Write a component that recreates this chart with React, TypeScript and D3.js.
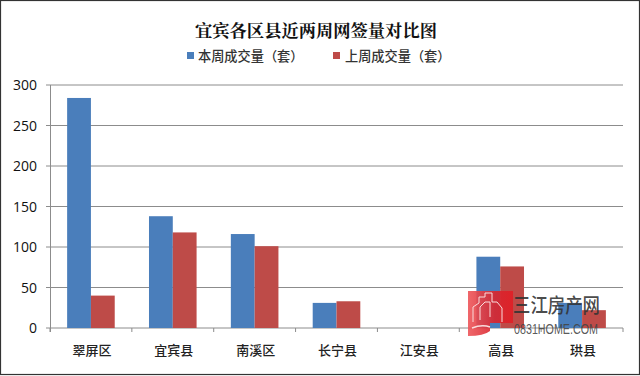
import React from "react";
import * as d3 from "d3";

const title = "宜宾各区县近两周网签量对比图";
const categories = ["翠屏区", "宜宾县", "南溪区", "长宁县", "江安县", "高县", "珙县"];
const thisWeek = [284, 138, 116, 31, 0, 88, 31];
const lastWeek = [40, 118, 101, 33, 0, 76, 22];
const seriesNames = ["本周成交量（套）", "上周成交量（套）"];
const seriesColors = ["#4a7ebb", "#be4b48"];
const yTicks = [0, 50, 100, 150, 200, 250, 300];

const W = 640, H = 376;
const plot = { left: 50, right: 623, top: 85, bottom: 328 };
const font = "'Noto Sans CJK SC', sans-serif";

export default function App() {
  const x = d3.scaleBand<string>().domain(categories).range([plot.left, plot.right]);
  const inner = d3.scaleBand<number>().domain([0, 1]).range([0, x.bandwidth()]).paddingOuter(0.72).paddingInner(0);
  const y = d3.scaleLinear().domain([0, 300]).range([plot.bottom, plot.top]);
  const series = [thisWeek, lastWeek];
  const ticksX = [...categories.map((c) => x(c)!), plot.right];

  return (
    <svg width={W} height={H} style={{ position: "absolute", left: 0, top: 0, background: "#fff" }}>
      <defs>
        <linearGradient id="logo" x1="0" x2="1" y1="0" y2="0">
          <stop offset="0" stopColor="#ee5a5e" />
          <stop offset="0.6" stopColor="#d8262f" />
          <stop offset="1" stopColor="#e01f26" />
        </linearGradient>
      </defs>
      <rect x={0.5} y={0.5} width={W - 1} height={H - 2} fill="#fff" stroke="#333" strokeWidth={1.2} />
      <text x={316} y={37} textAnchor="middle" fontFamily="'Noto Serif CJK SC','Noto Sans CJK SC',serif" fontWeight={700} fontSize={17.3} fill="#111">{title}</text>

      <rect x={187} y={52} width={7} height={7} fill={seriesColors[0]} />
      <text x={198} y={60.5} fontFamily={font} fontWeight={500} fontSize={13.2} fill="#333">{seriesNames[0]}</text>
      <rect x={333} y={52} width={7} height={7} fill={seriesColors[1]} />
      <text x={345} y={60.5} fontFamily={font} fontWeight={500} fontSize={13.2} fill="#333">{seriesNames[1]}</text>

      {yTicks.map((t) => (
        <g key={t}>
          <line x1={plot.left - 4} x2={plot.right} y1={y(t)} y2={y(t)} stroke="#8c8c8c" strokeWidth={1} />
          <text x={37} y={y(t) + 5} textAnchor="end" fontFamily="'Open Sans', sans-serif" fontSize={14} fill="#111">{t}</text>
        </g>
      ))}
      <line x1={plot.left + 0.5} x2={plot.left + 0.5} y1={plot.top} y2={plot.bottom + 4} stroke="#8c8c8c" />
      {ticksX.map((tx, i) => (
        <line key={i} x1={tx} x2={tx} y1={plot.bottom} y2={plot.bottom + 4} stroke="#8c8c8c" />
      ))}

      {series.map((vals, s) =>
        vals.map((v, i) => (
          <rect key={`${s}-${i}`} x={x(categories[i])! + inner(s)!} y={y(v)} width={inner.bandwidth()} height={plot.bottom - y(v)} fill={seriesColors[s]} />
        ))
      )}

      {categories.map((c) => (
        <text key={c} x={x(c)! + x.bandwidth() / 2 + 1} y={354.5} textAnchor="middle" fontFamily={font} fontWeight={500} fontSize={13} fill="#222">{c}</text>
      ))}

      <g>
        <path d="M468 291 H513 V323 H490 V331 Q484 336 468 336 Z" fill="url(#logo)" fillOpacity={0.92} />
        <path d="M473 322 V307 L479 303 V297 L485 297 V293 L492 293 V302 L497 302 L502 308 V322" fill="none" stroke="#f9dcdc" strokeWidth={1} />
        <path d="M480 320 V307 L485 302 H490 V317" fill="none" stroke="#f9dcdc" strokeWidth={1} />
        <path d="M472 328 Q482 324 490 327" fill="none" stroke="#f9dcdc" strokeWidth={1.4} />
        <text x={513} y={313} fontFamily={font} fontWeight={500} fontSize={20} fill="#333" fillOpacity={0.9} textLength={87} lengthAdjust="spacingAndGlyphs">三江房产网</text>
        <text x={514} y={334} fontFamily="'Liberation Sans', sans-serif" fontSize={14.5} fill="#444" fillOpacity={0.9} textLength={84} lengthAdjust="spacingAndGlyphs">0831HOME.COM</text>
      </g>
    </svg>
  );
}
